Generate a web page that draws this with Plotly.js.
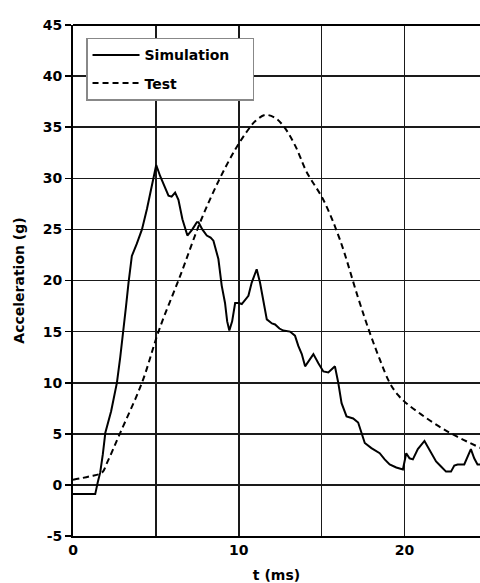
<!DOCTYPE html>
<html>
<head>
<meta charset="utf-8">
<script src="https://cdn.plot.ly/plotly-3.0.1.min.js"></script>
<style>html,body{margin:0;padding:0;background:#fff;}#chart{width:480px;height:583px;}</style>
</head>
<body>
<div id="chart"></div>
<script>
// Simulation trace (time in ms, acceleration in g)
const simT = [0, 1.34, 1.5, 1.64, 1.8, 1.95, 2.3, 2.65, 2.85, 3.05, 3.2, 3.35, 3.55, 3.85, 4.16, 4.46, 4.75, 5.02, 5.26, 5.5, 5.76, 5.95, 6.16, 6.36, 6.6, 6.9, 7.2, 7.47, 7.57, 7.8, 8.07, 8.3, 8.47, 8.77, 8.97, 9.17, 9.3, 9.43, 9.6, 9.78, 10.0, 10.18, 10.4, 10.58, 10.78, 11.08, 11.28, 11.5, 11.69, 12.0, 12.19, 12.45, 12.69, 13.09, 13.39, 13.59, 13.8, 14.0, 14.3, 14.5, 14.8, 15.1, 15.4, 15.8, 16.0, 16.2, 16.5, 16.9, 17.2, 17.6, 18.0, 18.5, 18.8, 19.1, 19.5, 19.9, 20.1, 20.3, 20.5, 20.8, 21.2, 21.5, 21.9, 22.2, 22.5, 22.8, 23.0, 23.2, 23.6, 24.0, 24.2, 24.4, 24.6];
const simA = [-0.9, -0.9, 0.3, 1.2, 3.0, 5.1, 7.2, 10.0, 12.5, 15.1, 17.5, 19.8, 22.4, 23.6, 25.0, 27.0, 29.3, 31.3, 30.2, 29.2, 28.3, 28.2, 28.6, 27.9, 26.0, 24.4, 25.0, 25.7, 25.7, 25.0, 24.4, 24.2, 23.9, 22.1, 19.5, 17.8, 16.0, 15.1, 16.0, 17.8, 17.8, 17.7, 18.2, 18.5, 19.8, 21.1, 19.8, 18.0, 16.2, 15.8, 15.7, 15.3, 15.1, 15.0, 14.6, 13.6, 12.8, 11.6, 12.3, 12.8, 11.9, 11.1, 11.0, 11.6, 10.0, 8.0, 6.7, 6.5, 6.1, 4.1, 3.6, 3.1, 2.5, 2.0, 1.7, 1.5, 3.1, 2.6, 2.5, 3.5, 4.3, 3.5, 2.3, 1.8, 1.3, 1.3, 1.9, 2.0, 2.0, 3.5, 2.6, 2.0, 2.0];

// Test trace
const testT = [0, 1.04, 1.75, 2.05, 2.85, 4.16, 5.2, 6.5, 7.67, 8.8, 9.78, 10.5, 11.0, 11.6, 12.2, 12.7, 13.4, 14.1, 15.1, 16.1, 17.2, 17.9, 18.5, 19.1, 19.6, 20.1, 21.0, 22.1, 23.2, 24.6];
const testA = [0.5, 0.85, 1.2, 2.15, 5.1, 10.0, 15.2, 20.6, 25.7, 29.8, 32.8, 34.6, 35.6, 36.2, 35.9, 35.1, 33.2, 30.6, 27.9, 24.0, 18.3, 14.9, 12.3, 10.0, 8.8, 8.0, 6.9, 5.7, 4.7, 3.6];

const seriesNames = ['Simulation', 'Test'];
const xTickVals = [0, 5, 10, 15, 20];
const xTickText = ['0', '', '10', '', '20'];
const yTickVals = [-5, 0, 5, 10, 15, 20, 25, 30, 35, 40, 45];
const yTickText = ['-5', '0', '5', '10', '15', '20', '25', '30', '35', '40', '45'];

const fontFam = 'DejaVu Sans, Liberation Sans, Arial, sans-serif';
const bold = s => s ? '<b>' + s + '</b>' : '';
const pad = '&#160;&#160;&#160;&#160;';

const traces = [
  {x: simT, y: simA, type: 'scatter', mode: 'lines', name: bold(seriesNames[0]) + pad, legendgroup: 'a',
   line: {color: '#000', width: 2}},
  {x: testT, y: testA, type: 'scatter', mode: 'lines', name: bold(seriesNames[1]), legendgroup: 'b',
   line: {color: '#000', width: 2, dash: '6px,4px', shape: 'spline'}}
];

const layout = {
  width: 480, height: 583,
  margin: {l: 73, r: 0, t: 25, b: 47},
  paper_bgcolor: '#fff', plot_bgcolor: '#fff',
  showlegend: true,
  font: {family: fontFam, color: '#000', size: 14},
  xaxis: {
    range: [0, 24.55], tickvals: xTickVals, ticktext: xTickText.map(bold),
    showgrid: true, gridcolor: '#1a1a1a', gridwidth: 1.6,
    showline: true, linecolor: '#000', linewidth: 2, mirror: false,
    zeroline: false, ticks: '',
    tickfont: {family: fontFam, size: 14, weight: 'bold'},
    title: {text: '<b>t (ms)</b>', font: {family: fontFam, size: 14, weight: 'bold'}, standoff: 14}
  },
  yaxis: {
    range: [-5, 45], tickvals: yTickVals, ticktext: yTickText.map(bold),
    showgrid: true, gridcolor: '#1a1a1a', gridwidth: 1.6,
    showline: true, linecolor: '#000', linewidth: 2,
    zeroline: false, ticks: 'outside', ticklen: 6, tickwidth: 1.6, tickcolor: '#000',
    tickfont: {family: fontFam, size: 14, weight: 'bold'},
    title: {text: '<b>Acceleration (g)</b>', font: {family: fontFam, size: 14, weight: 'bold'}, standoff: 15}
  },
  shapes: [
    {type: 'line', xref: 'paper', yref: 'paper', x0: 0, x1: 1, y0: 1, y1: 1, line: {color: '#000', width: 2}}
  ],
  legend: {
    x: 0.032, y: 0.975, xanchor: 'left', yanchor: 'top',
    bgcolor: '#fff', bordercolor: '#888', borderwidth: 1.5,
    font: {family: fontFam, size: 14, color: '#000'},
    itemwidth: 47, tracegroupgap: 7, traceorder: 'grouped'
  }
};

Plotly.newPlot('chart', traces, layout, {staticPlot: true});
</script>
</body>
</html>
